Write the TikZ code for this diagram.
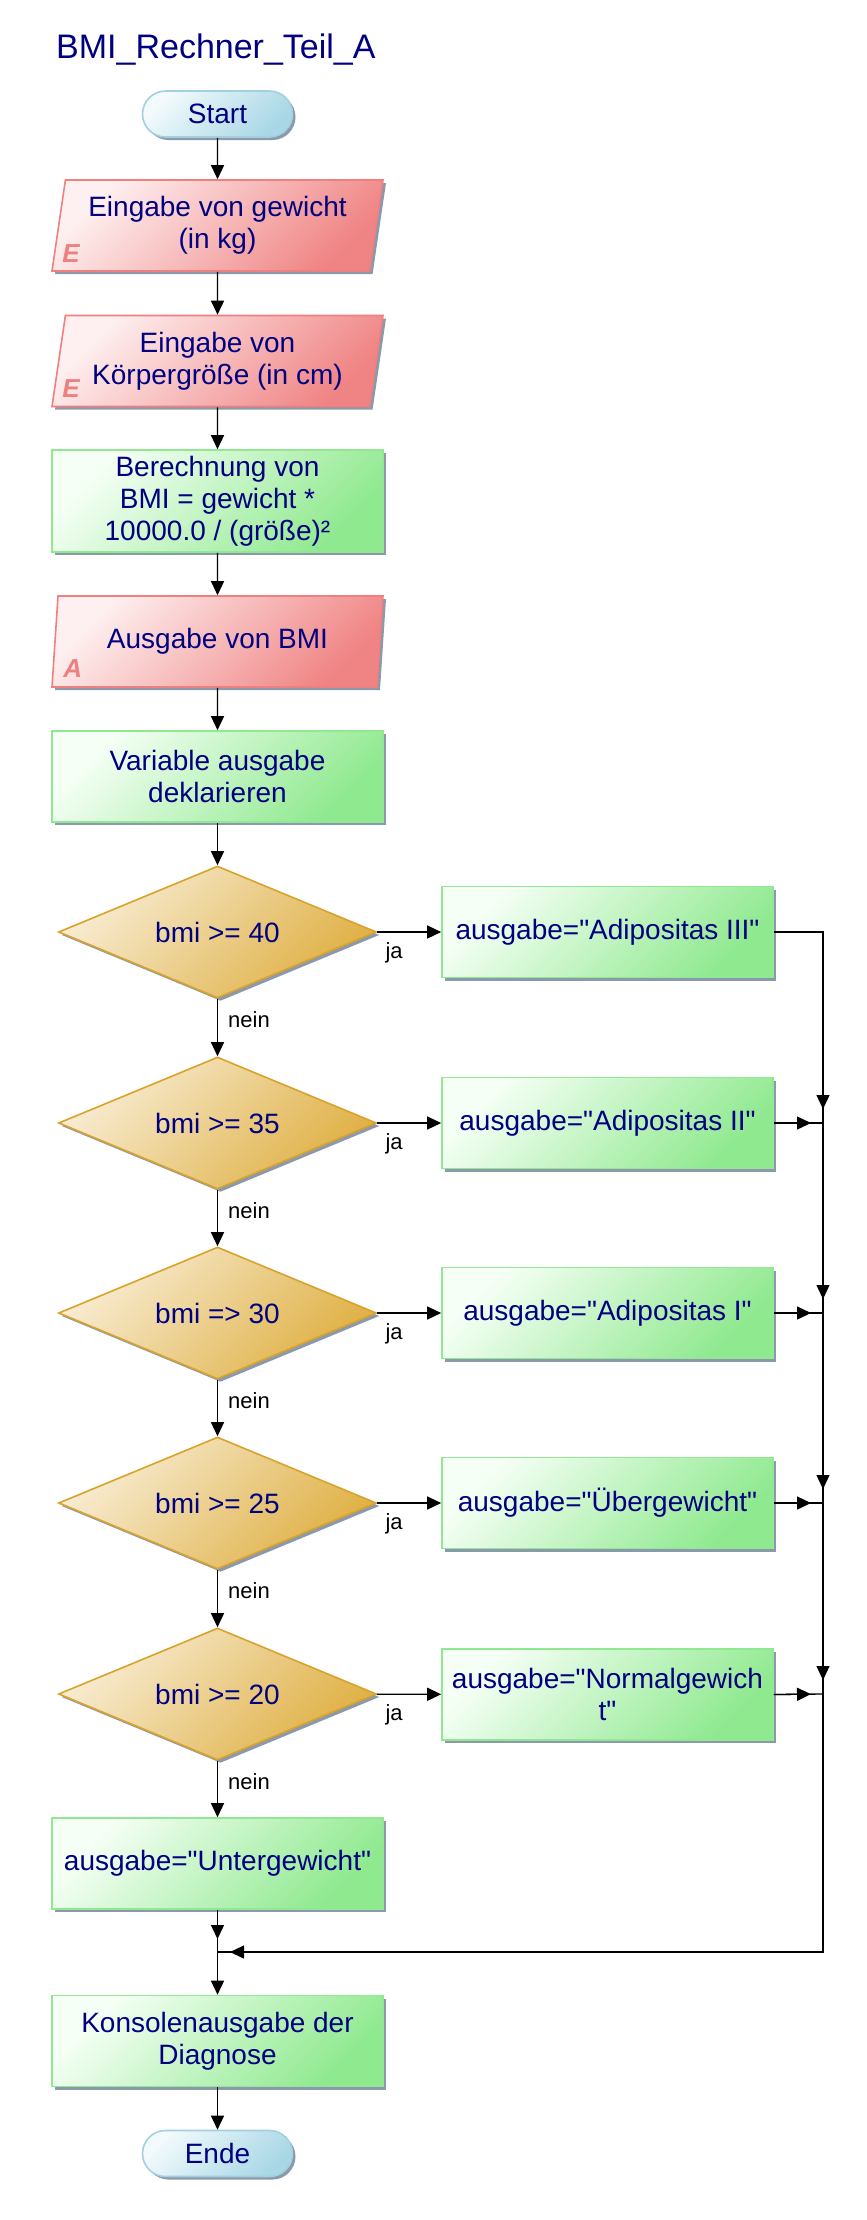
\documentclass[tikz,border=0pt]{standalone}
\usepackage{fontspec}
\setmainfont{Liberation Sans}[Ligatures=TeXOff]
\usetikzlibrary{shapes.geometric,shadows,arrows.meta,calc}
\definecolor{navytext}{HTML}{000080}
\definecolor{shadowc}{HTML}{8A99AB}
\definecolor{termlight}{HTML}{F2FAFC}
\definecolor{termdark}{HTML}{A9D7E6}
\definecolor{termborder}{HTML}{A3D0DF}
\definecolor{iolight}{HTML}{FEF0F0}
\definecolor{iodark}{HTML}{F08484}
\definecolor{ioborder}{HTML}{F08080}
\definecolor{proclight}{HTML}{F6FFF6}
\definecolor{procdark}{HTML}{8FE98F}
\definecolor{procborder}{HTML}{90E890}
\definecolor{declight}{HTML}{F8ECD2}
\definecolor{decdark}{HTML}{DFB044}
\definecolor{decborder}{HTML}{D9A22A}
\definecolor{emarkc}{HTML}{EE8080}
\begin{document}
\begin{tikzpicture}[x=1pt,y=-1pt,
  every node/.style={font=\fontsize{28}{32}\selectfont, text=navytext, inner sep=0pt, align=center},
  shadowed/.style={drop shadow={shadow xshift=3pt,shadow yshift=-3pt,fill=shadowc,opacity=1}},
  termbox/.style={shadowed, rounded corners=23pt, draw=termborder, line width=1.6pt,
     top color=termlight, bottom color=termdark, shading angle=45,
     minimum width=150pt, minimum height=46pt},
  iobox/.style={shadowed, trapezium, trapezium left angle=77, trapezium right angle=103,
     trapezium stretches body, draw=ioborder, line width=1.6pt,
     top color=iolight, bottom color=iodark, shading angle=45,
     minimum width=331pt, minimum height=91pt},
  procbox/.style={shadowed, rectangle, draw=procborder, line width=1.6pt,
     top color=proclight, bottom color=procdark, shading angle=45,
     minimum width=331pt, minimum height=91pt},
  decbox/.style={shadowed, diamond, aspect=2.41, draw=decborder, line width=1.6pt,
     top color=declight, bottom color=decdark, shading angle=45,
     minimum width=318pt, minimum height=132pt},
  emark/.style={anchor=base west, text=emarkc, font=\fontsize{26}{26}\selectfont\bfseries\itshape},
  lbl/.style={anchor=base west, text=black, font=\fontsize{22}{22}\selectfont},
  conn/.style={draw=black, line width=1.3pt},
  arr/.style={conn, -{Triangle[length=14pt,width=13pt]}}
]
\useasboundingbox (0,0) rectangle (867,2220);

% title
\node[anchor=base west, font=\fontsize{34}{40}\selectfont] (title) at (56,58) {BMI\_Rechner\_Teil\_A};

% main column
\node[termbox] (start) at (217.5,114) {Start};
\node[iobox] (in1) at (217.5,225.5) {Eingabe von gewicht\\(in kg)};
\node[emark] (e1) at ($(in1.bottom left corner)+(11,-9.5)$) {E};
\node[iobox] (in2) at (217.5,361) {Eingabe von\\Körpergröße (in cm)};
\node[emark] (e2) at ($(in2.bottom left corner)+(11,-9.5)$) {E};
\node[procbox, minimum height=102pt] (calc) at (217.5,501) {Berechnung von\\BMI = gewicht *\\10000.0 / (größe)²};
\node[iobox] (out) at (217.5,641.5) {Ausgabe von BMI};
\node[emark] (e3) at ($(out.bottom left corner)+(12,-10)$) {A};
\node[procbox] (decl) at (217.5,776.5) {Variable ausgabe\\deklarieren};

\node[decbox] (d1) at (217.5,932) {bmi >= 40};
\node[decbox] (d2) at (217.5,1123) {bmi >= 35};
\node[decbox] (d3) at (217.5,1313) {bmi => 30};
\node[decbox] (d4) at (217.5,1503) {bmi >= 25};
\node[decbox] (d5) at (217.5,1694) {bmi >= 20};

\node[procbox] (b1) at (607.5,932) {ausgabe="Adipositas III"};
\node[procbox] (b2) at (607.5,1123) {ausgabe="Adipositas II"};
\node[procbox] (b3) at (607.5,1313) {ausgabe="Adipositas I"};
\node[procbox] (b4) at (607.5,1503) {ausgabe="Übergewicht"};
\node[procbox] (b5) at (607.5,1694.5) {ausgabe="Normalgewich\\t"};

\node[procbox] (under) at (217.5,1863.5) {ausgabe="Untergewicht"};
\node[procbox] (kons) at (217.5,2041) {Konsolenausgabe der\\Diagnose};
\node[termbox] (ende) at (217.5,2153.5) {Ende};

% junction points
\coordinate (j1) at (823,932);
\coordinate (j2) at (823,1123);
\coordinate (j3) at (823,1313);
\coordinate (j4) at (823,1503);
\coordinate (j5) at (823,1694);
\coordinate (jm) at (823,1952);
\coordinate (m) at (217.5,1952);

% main flow
\draw[arr] (start) -- (in1);
\draw[arr] (in1) -- (in2);
\draw[arr] (in2) -- (calc);
\draw[arr] (calc) -- (out);
\draw[arr] (out) -- (decl);
\draw[arr] (decl) -- (d1);
\draw[arr] (d1) -- (d2);
\draw[arr] (d2) -- (d3);
\draw[arr] (d3) -- (d4);
\draw[arr] (d4) -- (d5);
\draw[arr] (d5) -- (under);

% ja branches
\draw[arr] (d1) -- (b1);
\draw[arr] (d2) -- (b2);
\draw[arr] (d3) -- (b3);
\draw[arr] (d4) -- (b4);
\draw[arr] (d5) -- (b5);

% labels
\foreach \d in {d1,d2,d3,d4,d5}{
  \node[lbl] (ja-\d) at ($(\d.east)+(8,26.5)$) {ja};
  \node[lbl] (nein-\d) at ($(\d.south)+(10.5,29)$) {nein};
}

% collector line
\draw[conn] (b1.east) -- (j1) -- (jm) -- (m);
\draw[arr, shorten >=12pt] (b2.east) -- (j2);
\draw[arr, shorten >=12pt] (b3.east) -- (j3);
\draw[arr, shorten >=12pt] (b4.east) -- (j4);
\draw[arr, shorten >=12pt] (b5.east) -- (j5);
\draw[conn] (b2.east) -- (j2);
\draw[conn] (b3.east) -- (j3);
\draw[conn] (b4.east) -- (j4);
\draw[conn] (b5.east) -- (j5);
\draw[arr, shorten >=14pt] (j1) -- (j2);
\draw[arr, shorten >=14pt] (j2) -- (j3);
\draw[arr, shorten >=14pt] (j3) -- (j4);
\draw[arr, shorten >=14pt] (j4) -- (j5);
\draw[arr, shorten >=12.5pt] (jm) -- (m);

% merge
\draw[conn] (under) -- (m);
\draw[arr, shorten >=13pt] (under) -- (m);
\draw[arr] (m) -- (kons);
\draw[arr] (kons) -- (ende);
\end{tikzpicture}
\end{document}
